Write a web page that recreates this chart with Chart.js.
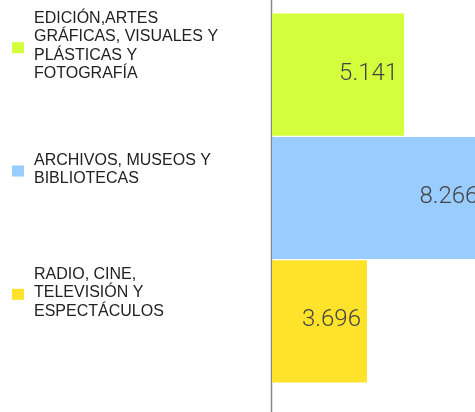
<!DOCTYPE html>
<html>
<head>
<meta charset="utf-8">
<script src="https://cdn.jsdelivr.net/npm/chart.js@4.4.0/dist/chart.umd.min.js"></script>
<style>
  html, body { margin: 0; padding: 0; background: #fff; }
  #wrap { width: 475px; height: 412px; position: relative; }
</style>
</head>
<body>
<div id="wrap"><canvas id="chart"></canvas></div>
<script>
// categories (multi-line) and values
const categories = [
    ["EDICIÓN,ARTES", "GRÁFICAS, VISUALES Y", "PLÁSTICAS Y", "FOTOGRAFÍA"],
    ["ARCHIVOS, MUSEOS Y", "BIBLIOTECAS"],
    ["RADIO, CINE,", "TELEVISIÓN Y", "ESPECTÁCULOS"]
];
const values = [5.141, 8.266, 3.696];
const valueLabels = ["5.141", "8.266", "3.696"];
const barColors = ["#D4FF3C", "#99CCFF", "#FFE32B"];

// left axis line spanning the whole canvas height
const axisLine = {
    id: "axisLine",
    beforeDatasetsDraw(chart) {
        const ctx = chart.ctx;
        const x = chart.scales.x.getPixelForValue(0);
        ctx.save();
        ctx.strokeStyle = "#8a8a8a";
        ctx.lineWidth = 1.5;
        ctx.beginPath();
        ctx.moveTo(x - 0.5, 0);
        ctx.lineTo(x - 0.5, chart.height);
        ctx.stroke();
        ctx.restore();
    }
};

// coloured squares next to the category labels + value labels inside bars
const extras = {
    id: "extras",
    afterDatasetsDraw(chart) {
        const ctx = chart.ctx;
        const xs = chart.scales.x, ys = chart.scales.y;
        ctx.save();
        values.forEach((v, i) => {
            const yc = ys.getPixelForValue(i);
            ctx.fillStyle = barColors[i];
            ctx.fillRect(12, yc - 27 - 5.5, 12, 11);

            ctx.fillStyle = "#444";
            ctx.font = "300 24px Roboto";
            ctx.textAlign = "right";
            ctx.textBaseline = "alphabetic";
            ctx.fillText(valueLabels[i], xs.getPixelForValue(v) - 6, yc + 5);
        });
        ctx.restore();
    }
};

new Chart(document.getElementById("chart"), {
    type: "bar",
    data: {
        labels: categories,
        datasets: [{
            data: values,
            backgroundColor: barColors,
            borderWidth: 0,
            barPercentage: 0.99,
            categoryPercentage: 1
        }]
    },
    options: {
        indexAxis: "y",
        responsive: true,
        maintainAspectRatio: false,
        animation: false,
        layout: { padding: { top: 13, bottom: 29, left: 34, right: 0 } },
        plugins: {
            legend: { display: false },
            tooltip: { enabled: false }
        },
        scales: {
            x: {
                display: false,
                min: 0,
                max: 7.9
            },
            y: {
                grid: { display: false },
                border: { display: false },
                afterFit: function (axis) {
                    axis.width = 238;
                    axis.paddingTop = 0;
                    axis.paddingBottom = 0;
                },
                ticks: {
                    crossAlign: "far",
                    labelOffset: -28.5,
                    color: "#222",
                    font: { family: "'Liberation Sans', Arial, sans-serif", size: 16, lineHeight: 1.15 }
                }
            }
        }
    },
    plugins: [axisLine, extras]
});
</script>
</body>
</html>
